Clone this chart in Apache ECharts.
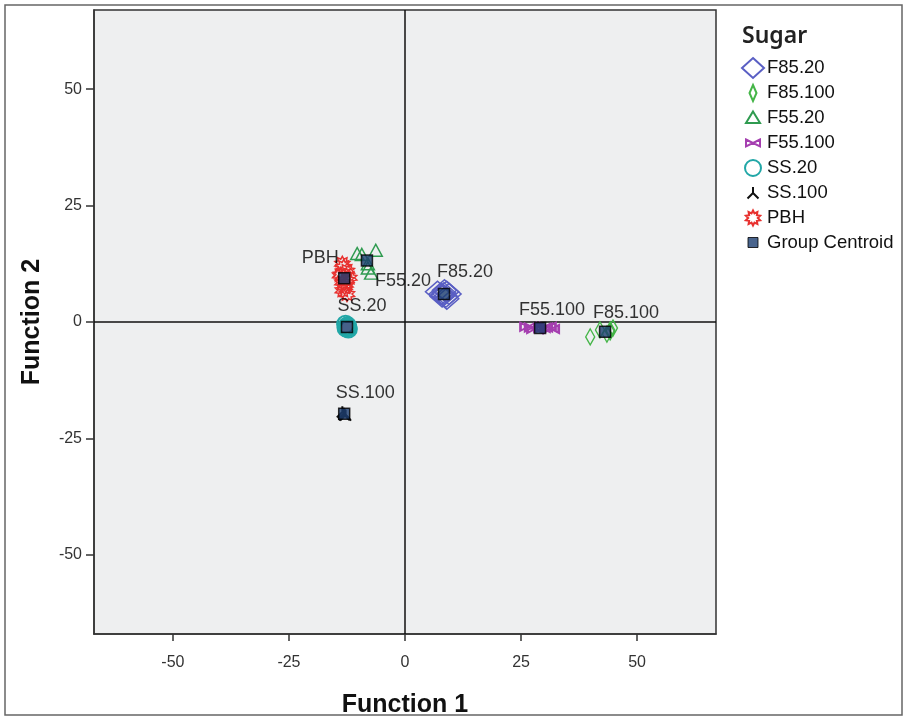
<!DOCTYPE html>
<html>
<head>
<meta charset="utf-8">
<script src="https://cdn.jsdelivr.net/npm/echarts@6/dist/echarts.min.js"></script>
<style>html,body{margin:0;padding:0;background:#fff}#c{width:904px;height:718px}</style>
</head>
<body>
<div id="c"></div>
<script>
// ---- data ----
const groups = ['F85.20','F85.100','F55.20','F55.100','SS.20','SS.100','PBH'];
const f85_20  = [[7.0,6.5],[8.0,5.5],[9.5,6.0],[9.0,5.0],[8.5,6.8],[8.4,6.2],[7.8,6.0],[9.0,6.5],[8.2,5.8],[8.8,5.4]];
const f85_100 = [[39.9,-3.2],[42.0,-1.7],[44.2,-2.1],[44.8,-1.3],[43.5,-2.6],[44.2,-1.7]];
const f55_20  = [[-10.3,14.7],[-9.3,14.5],[-6.3,15.4],[-7.3,10.5],[-8.0,12.5],[-8.0,11.6]];
const f55_100 = [[26.5,-1.0],[28.0,-1.5],[30.0,-1.2],[31.5,-1.5],[29.5,-1.3],[27.5,-1.2],[30.8,-1.0]];
const ss_20   = [[-12.8,-0.5],[-12.2,-1.5],[-12.5,-1.0],[-12.3,-1.2],[-12.7,-1.3],[-12.4,-0.8],[-12.6,-1.1]];
const ss_100  = [[-13.5,-19.3],[-12.8,-20.0],[-13.0,-19.8],[-13.2,-19.6],[-13.1,-19.9]];
const pbh     = [[-13.5,12.5],[-12.5,11.0],[-14.0,10.0],[-12.0,9.5],[-13.5,8.5],[-13.0,7.5],[-12.5,6.0],[-13.8,10.2],[-12.8,8.0],[-13.2,11.8],[-12.6,9.0],[-13.4,6.8]];
const centroidX = [8.4, 43.1, -8.2, 29.1, -12.5, -13.1, -13.1];
const centroidY = [6.0, -2.1, 13.2, -1.3, -1.1, -19.7, 9.4];
const tickValues = [-50,-25,0,25,50];

// ---- styles ----
function starPath(cx, cy, n, ro, ri){
  let p = '';
  for (let i = 0; i < 2*n; i++){
    const r = i%2===0 ? ro : ri;
    const a = Math.PI*i/n - Math.PI/2;
    p += (i===0?'M':'L') + (cx + r*Math.cos(a)).toFixed(2) + ',' + (cy + r*Math.sin(a)).toFixed(2) + ' ';
  }
  return p + 'Z';
}
const PAD = ' M0,0 M22,22';
const styles = {
  'F85.20':  {symbol:'diamond', size:[24,21], color:'#5a5fc4', bw:1.5,
              icon:'path://M11,1 L22,11 L11,21 L0,11 Z'+PAD},
  'F85.100': {symbol:'diamond', size:[9,16], color:'#45b548', bw:1.5,
              icon:'path://M11,3 L14.5,11 L11,19 L7.5,11 Z'+PAD},
  'F55.20':  {symbol:'triangle', size:[13,12], color:'#2f9b50', bw:1.5,
              icon:'path://M11,4.5 L18,16 L4,16 Z'+PAD},
  'F55.100': {symbol:'path://M0,0 L10,5 L0,10 Z M20,0 L10,5 L20,10 Z', size:[15,8], color:'#a53fb0', bw:2,
              icon:'path://M4,7.5 L11,11 L4,14.5 Z M18,7.5 L11,11 L18,14.5 Z'+PAD},
  'SS.20':   {symbol:'circle', size:17, color:'#22a7a7', bw:2,
              icon:'path://M19,11 A8,8 0 1,1 3,11 A8,8 0 1,1 19,11 Z'+PAD},
  'SS.100':  {symbol:'path://M5,0 L5,5 L0,10 M5,5 L10,10', size:[11,11], color:'#111', bw:2,
              icon:'path://M11,5 L11,11 L5.5,16.5 M11,11 L16.5,16.5'+PAD},
  'PBH':     {symbol:'path://'+starPath(10,10,10,10,6.5), size:15, color:'#e8312f', bw:1.5,
              icon:'path://'+starPath(11,11,10,7.5,4.8)+PAD}
};
const dataSets = [f85_20, f85_100, f55_20, f55_100, ss_20, ss_100, pbh];
const labelOffsets = {
  'F85.20':[21,-22], 'F85.100':[21,-19], 'F55.20':[36,20], 'F55.100':[12,-18],
  'SS.20':[15,-21], 'SS.100':[21,-21], 'PBH':[-24,-20]
};
const FONT = 'Liberation Sans, Arial, sans-serif';

const series = groups.map((g,i)=>({
  name: g, type:'scatter', data: dataSets[i],
  symbol: styles[g].symbol, symbolSize: styles[g].size,
  itemStyle:{color:'rgba(0,0,0,0)', borderColor:styles[g].color, borderWidth:styles[g].bw, opacity:1},
  emphasis:{disabled:true}, z:2
}));
series[0].markLine = {
  silent:true, symbol:'none', label:{show:false},
  lineStyle:{color:'#111', width:1.5, type:'solid'},
  data:[{xAxis:0},{yAxis:0}], z:1
};
series.push({
  name:'Group Centroid', type:'scatter', z:5,
  symbol:'rect', symbolSize:11,
  itemStyle:{color:'#1b3d70', borderColor:'#000', borderWidth:1.5},
  emphasis:{disabled:true},
  label:{show:true, color:'#000', textBorderWidth:0, textBorderColor:'transparent'},
  data: groups.map((g,i)=>({
    value:[centroidX[i], centroidY[i]],
    label:{show:true, formatter:g, position:'inside', offset:labelOffsets[g],
      color:'#000', textBorderWidth:0, textBorderColor:'transparent',
      fontSize:18, fontFamily:FONT}
  }))
});

const legendData = groups.map(g=>({name:g, icon:styles[g].icon}));
legendData.push({name:'Group Centroid', icon:'path://M6,6 L16,6 L16,16 L6,16 Z'+PAD,
  itemStyle:{color:'#1b3d70', borderColor:'#000', borderWidth:1}});

const chart = echarts.init(document.getElementById('c'), null, {renderer:'canvas'});
chart.setOption({
  animation:false,
  backgroundColor:'#fff',
  graphic:[{type:'rect', shape:{x:5,y:5,width:897,height:710}, style:{fill:'none', stroke:'#666', lineWidth:1.5}, silent:true, z:0}],
  title:{text:'Sugar', left:737, top:20, textStyle:{fontSize:23, fontWeight:600, color:'#222', fontFamily:'Noto Sans'}},
  legend:{
    orient:'vertical', left:741, top:56, padding:0, itemWidth:22, itemHeight:22, itemGap:1,
    textStyle:{fontSize:18.5, lineHeight:22, color:'#111', fontFamily:FONT, padding:[0,0,0,-2]},
    data:legendData
  },
  grid:{left:94, right:188, top:10, bottom:84, show:true, outerBoundsMode:'none',
        backgroundColor:'#eeeff0', borderColor:'#333', borderWidth:1.5},
  xAxis:{
    type:'value', min:-67, max:67,
    name:'Function 1', nameLocation:'middle', nameGap:59,
    nameTextStyle:{fontSize:25, fontWeight:'bold', color:'#111', fontFamily:FONT},
    axisLine:{show:true, onZero:false, lineStyle:{color:'#333', width:1.5}},
    axisTick:{show:true, length:7, customValues:tickValues, lineStyle:{color:'#333', width:1.5}},
    axisLabel:{customValues:tickValues, fontSize:16, color:'#333', margin:21, fontFamily:FONT},
    splitLine:{show:false}
  },
  yAxis:{
    type:'value', min:-67, max:67,
    name:'Function 2', nameLocation:'middle', nameGap:49,
    nameTextStyle:{fontSize:25, fontWeight:'bold', color:'#111', fontFamily:FONT},
    axisLine:{show:true, onZero:false, lineStyle:{color:'#333', width:1.5}},
    axisTick:{show:true, length:8, customValues:tickValues, lineStyle:{color:'#333', width:1.5}},
    axisLabel:{customValues:tickValues, fontSize:16, color:'#333', margin:12, fontFamily:FONT},
    splitLine:{show:false}
  },
  series: series
});
</script>
</body>
</html>
